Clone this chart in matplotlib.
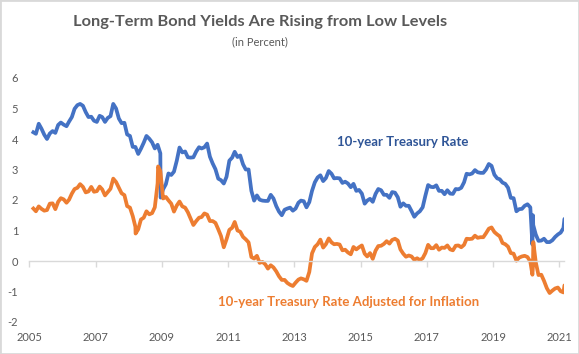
import matplotlib
matplotlib.use("Agg")
import matplotlib.pyplot as plt
import pandas as pd
import numpy as np

# ---- data (monthly readings, mid-month) ----
start_month = "2005-01-15"
t10_monthly = [
    4.22, 4.17, 4.50, 4.34, 4.14, 4.00, 4.18, 4.26, 4.20, 4.46, 4.54, 4.47,  # 2005
    4.42, 4.57, 4.72, 4.99, 5.11, 5.15, 5.09, 4.88, 4.72, 4.73, 4.60, 4.56,  # 2006
    4.76, 4.72, 4.56, 4.69, 4.75, 5.15, 5.00, 4.67, 4.52, 4.53, 4.15, 4.10,  # 2007
    3.74, 3.74, 3.51, 3.68, 3.88, 4.10, 4.01, 3.89, 3.69, 3.81, 3.53, 2.35,  # 2008
    2.52, 2.87, 2.82, 2.93, 3.29, 3.72, 3.56, 3.59, 3.40, 3.39, 3.40, 3.59,  # 2009
    3.73, 3.69, 3.73, 3.85, 3.42, 3.20, 3.01, 2.70, 2.65, 2.54, 2.76, 3.29,  # 2010
    3.39, 3.58, 3.41, 3.46, 3.17, 3.00, 3.00, 2.30, 1.98, 2.15, 2.01, 1.98,  # 2011
    1.97, 1.97, 2.17, 2.05, 1.80, 1.62, 1.50, 1.68, 1.72, 1.75, 1.65, 1.72,  # 2012
    1.91, 1.98, 1.96, 1.76, 1.93, 2.30, 2.58, 2.74, 2.81, 2.62, 2.72, 2.95,  # 2013
    2.86, 2.71, 2.72, 2.71, 2.56, 2.60, 2.54, 2.42, 2.53, 2.30, 2.33, 2.21,  # 2014
    1.88, 1.98, 2.04, 1.94, 2.20, 2.36, 2.32, 2.17, 2.17, 2.07, 2.26, 2.24,  # 2015
    2.09, 1.78, 1.89, 1.81, 1.81, 1.64, 1.45, 1.56, 1.63, 1.76, 2.14, 2.49,  # 2016
    2.43, 2.42, 2.48, 2.30, 2.30, 2.19, 2.32, 2.21, 2.20, 2.36, 2.35, 2.40,  # 2017
    2.58, 2.86, 2.84, 2.87, 2.98, 2.91, 2.89, 2.89, 3.00, 3.18, 3.12, 2.83,  # 2018
    2.71, 2.68, 2.57, 2.53, 2.40, 2.07, 2.06, 1.63, 1.70, 1.71, 1.81, 1.86,  # 2019
    1.76, 1.50, 0.87, 0.66, 0.67, 0.73, 0.62, 0.62, 0.68, 0.79, 0.87, 0.93,  # 2020
    1.08, 1.28,                                                              # 2021
]
t10_extra_dates = ["2008-12-18", "2020-03-09", "2020-03-18", "2021-02-26"]
t10_extra_vals = [2.08, 0.54, 1.18, 1.38]

tips_monthly = [
    1.72, 1.63, 1.79, 1.71, 1.65, 1.67, 1.88, 1.89, 1.70, 1.94, 2.06, 2.02,  # 2005
    1.91, 2.01, 2.21, 2.36, 2.40, 2.52, 2.43, 2.25, 2.28, 2.43, 2.27, 2.29,  # 2006
    2.44, 2.35, 2.15, 2.26, 2.37, 2.70, 2.59, 2.40, 2.22, 2.16, 1.80, 1.75,  # 2007
    1.47, 1.12, 1.04, 1.36, 1.42, 1.63, 1.53, 1.57, 1.76, 2.55, 2.95, 2.05,  # 2008
    2.10, 1.99, 1.88, 1.62, 1.82, 1.95, 1.79, 1.75, 1.60, 1.39, 1.18, 1.31,  # 2009
    1.42, 1.44, 1.56, 1.52, 1.31, 1.31, 1.25, 1.04, 0.82, 0.45, 0.71, 1.02,  # 2010
    1.09, 1.28, 1.00, 0.96, 0.79, 0.71, 0.61, 0.13, 0.08, 0.17, -0.06, -0.03,  # 2011
    -0.11, -0.25, -0.14, -0.21, -0.34, -0.50, -0.62, -0.62, -0.72, -0.78, -0.82, -0.71,  # 2012
    -0.61, -0.57, -0.60, -0.65, -0.36, 0.25, 0.46, 0.55, 0.70, 0.44, 0.55, 0.74,  # 2013
    0.61, 0.55, 0.56, 0.54, 0.35, 0.37, 0.28, 0.22, 0.46, 0.38, 0.45, 0.51,  # 2014
    0.24, 0.15, 0.26, 0.07, 0.34, 0.49, 0.50, 0.56, 0.65, 0.57, 0.69, 0.73,  # 2015
    0.67, 0.38, 0.24, 0.14, 0.18, 0.15, 0.04, 0.09, 0.03, 0.09, 0.26, 0.53,  # 2016
    0.42, 0.42, 0.52, 0.37, 0.44, 0.43, 0.51, 0.38, 0.35, 0.50, 0.51, 0.45,  # 2017
    0.53, 0.73, 0.72, 0.73, 0.83, 0.76, 0.78, 0.78, 0.91, 1.06, 1.10, 0.95,  # 2018
    0.87, 0.81, 0.59, 0.55, 0.47, 0.26, 0.24, 0.01, 0.11, 0.15, 0.17, 0.13,  # 2019
    -0.02, -0.17, -0.04, -0.46, -0.45, -0.65, -0.89, -1.05, -0.97, -0.90, -0.87, -0.99,  # 2020
    -1.03, -0.86,                                                            # 2021
]
tips_extra_dates = ["2008-03-17", "2008-11-20", "2020-03-09", "2020-03-19", "2021-02-26"]
tips_extra_vals = [0.90, 3.10, -0.45, 0.62, -0.80]

x_tick_years = [2005, 2007, 2009, 2011, 2013, 2015, 2017, 2019, 2021]
x_tick_labels = ["2005", "2007", "2009", "2011", "2013", "2015", "2017", "2019", "2021"]
y_ticks = [-2, -1, 0, 1, 2, 3, 4, 5, 6]

label_t10 = "10-year Treasury Rate"
label_tips = "10-year Treasury Rate Adjusted for Inflation"
title = "Long-Term Bond Yields Are Rising from Low Levels"
subtitle = "(in Percent)"


def to_year(dates):
    d = pd.DatetimeIndex(dates)
    return d.year + (d.dayofyear - 1) / 365.25


def build(monthly, extra_dates, extra_vals):
    md = pd.date_range(start_month, periods=len(monthly), freq="MS") + pd.Timedelta(days=14)
    x = np.concatenate([to_year(md), to_year(extra_dates)])
    y = np.concatenate([monthly, extra_vals])
    o = np.argsort(x)
    return x[o], y[o]


xb, yb = build(t10_monthly, t10_extra_dates, t10_extra_vals)
xo, yo = build(tips_monthly, tips_extra_dates, tips_extra_vals)

BLUE = "#4472C4"
ORANGE = "#ED7D31"
GREY = "#595959"
AXIS = "#D9D9D9"

plt.rcParams["font.family"] = ["Lato", "DejaVu Sans"]

fig = plt.figure(figsize=(5.79, 3.54), dpi=100)
ax = fig.add_axes([29.3 / 579, 1 - 322 / 354, (564 - 29.3) / 579, 244 / 354])

ax.plot(xb, yb, color=BLUE, lw=2.7, solid_joinstyle="round")
ax.plot(xo, yo, color=ORANGE, lw=2.7, solid_joinstyle="round")

ax.set_xlim(2005, 2021.14)
ax.set_ylim(-2, 6)

for s in ["left", "top", "right"]:
    ax.spines[s].set_visible(False)
ax.spines["bottom"].set_position(("data", 0))
ax.spines["bottom"].set_color(AXIS)
ax.spines["bottom"].set_linewidth(1.0)
ax.set_xticks(x_tick_years)
ax.tick_params(axis="x", length=4, width=1.0, color=AXIS, labelbottom=False, direction="out")
ax.set_yticks(y_ticks)
ax.set_yticklabels([str(v) for v in y_ticks])
ax.tick_params(axis="y", length=0, pad=8, labelsize=8, labelcolor=GREY)

sec = ax.secondary_xaxis("bottom")
sec.set_xticks(x_tick_years)
sec.set_xticklabels(x_tick_labels)
sec.tick_params(length=0, pad=7, labelsize=8, labelcolor=GREY)
sec.spines["bottom"].set_visible(False)

fig.text(260 / 579, 1 - 22 / 354, title, ha="center", va="center",
         fontsize=11.8, fontweight="bold", color=GREY)
fig.text(260 / 579, 1 - 42 / 354, subtitle, ha="center", va="center",
         fontsize=8, color=GREY)
fig.text(402.5 / 579, 1 - 142 / 354, label_t10, ha="center", va="center",
         fontsize=9.5, fontweight="bold", color="#2F5597")
fig.text(349 / 579, 1 - 302 / 354, label_tips, ha="center", va="center",
         fontsize=9.5, fontweight="bold", color=ORANGE)

fig.patches.append(plt.Rectangle((0, 0), 1, 1, transform=fig.transFigure,
                                 fill=False, edgecolor=AXIS, lw=2))

fig.savefig("out.png", dpi=100)
